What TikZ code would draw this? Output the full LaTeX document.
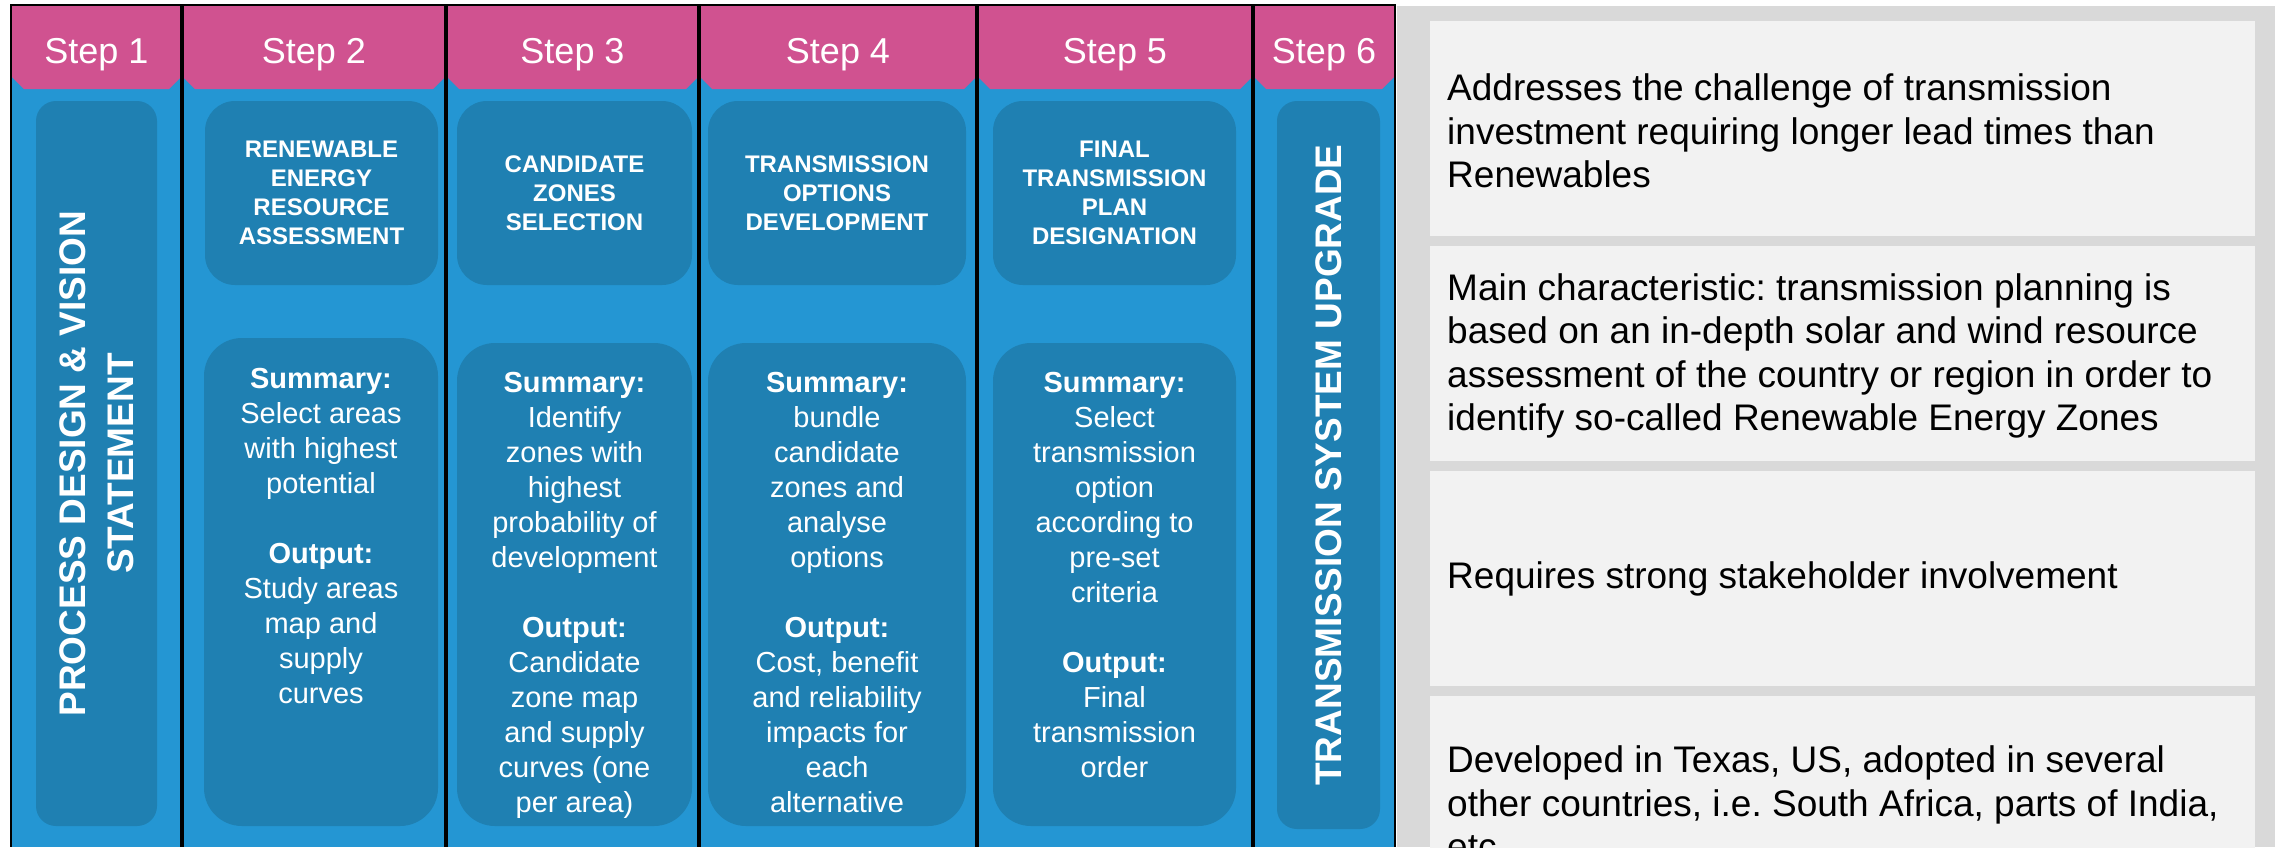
\documentclass[tikz,border=0pt]{standalone}
\usepackage{fontspec}
\setmainfont{Liberation Sans}
\frenchspacing
\definecolor{hdrpink}{RGB}{208,82,144}
\definecolor{colblue}{RGB}{36,150,211}
\definecolor{boxblue}{RGB}{31,128,178}
\definecolor{panelgray}{RGB}{217,217,217}
\definecolor{notegray}{RGB}{242,242,242}

\begin{document}
\begin{tikzpicture}[x=1pt,y=-1pt,
  steplabel/.style={text=white, font=\fontsize{36}{43}\selectfont, inner sep=0pt, anchor=base},
  innerbox/.style={fill=boxblue, draw=none, inner sep=0pt, rounded corners=#1},
  titletext/.style={text=white, font=\bfseries\fontsize{24}{29}\selectfont, align=center, inner sep=0pt},
  sumtext/.style={text=white, font=\fontsize{29}{35}\selectfont, align=center, inner sep=0pt, anchor=north},
  vtext/.style={text=white, font=\bfseries\fontsize{37}{48}\selectfont, align=center, inner sep=0pt, rotate=90},
  notebox/.style={fill=notegray, draw=none, inner sep=0pt, minimum width=825pt, minimum height=215pt},
  notetext/.style={text=black, font=\fontsize{37}{43.5}\selectfont, align=left, inner sep=0pt, anchor=west},
]
\useasboundingbox (0,0) rectangle (2280,847);
\clip (0,0) rectangle (2280,847);
\fill[white] (0,0) rectangle (2280,847);

% six step columns with chamfered pink headers
\foreach \xl/\xr/\n in {11/182/1,182/446/2,446/699/3,699/977/4,977/1253/5,1253/1395/6} {
  \fill[colblue] (\xl,5) rectangle (\xr,847);
  \fill[hdrpink] (\xl+1,6) -- (\xr-1,6) -- (\xr-1,77) -- (\xr-13,89)
                 -- (\xl+13,89) -- (\xl+1,77) -- cycle;
  \node[steplabel] (step\n) at ({(\xl+\xr)/2},63) {Step \n};
}

% column outlines
\draw[line width=2.5pt] (10,5) -- (1396,5);
\draw[line width=2pt] (11,4) -- (11,847);
\foreach \x in {182,446,699,977,1253} \draw[line width=3.5pt] (\x,5) -- (\x,847);
\draw[line width=2.5pt] (1395,4) -- (1395,847);

% step 1 and step 6: single tall boxes with vertical titles
\node[innerbox=20pt, minimum width=121pt, minimum height=725pt] (b1) at (96.5,463.5) {};
\node[vtext] (v1) at (b1.center) {PROCESS DESIGN \& VISION\\STATEMENT};
\node[innerbox=20pt, minimum width=103pt, minimum height=728pt] (b6) at (1328.5,465) {};
\node[vtext] (v6) at (b6.center) {TRANSMISSION SYSTEM UPGRADE};

% steps 2-5: title boxes
\node[innerbox=30pt, minimum width=233pt, minimum height=184pt] (t2) at (321.5,193) {};
\node[innerbox=30pt, minimum width=235pt, minimum height=184pt] (t3) at (574.5,193) {};
\node[innerbox=30pt, minimum width=258pt, minimum height=184pt] (t4) at (837,193) {};
\node[innerbox=30pt, minimum width=243pt, minimum height=184pt] (t5) at (1114.5,193) {};
\node[titletext] (tt2) at (t2.center) {RENEWABLE\\ENERGY\\RESOURCE\\ASSESSMENT};
\node[titletext] (tt3) at (t3.center) {CANDIDATE\\ZONES\\SELECTION};
\node[titletext] (tt4) at (t4.center) {TRANSMISSION\\OPTIONS\\DEVELOPMENT};
\node[titletext] (tt5) at (t5.center) {FINAL\\TRANSMISSION\\PLAN\\DESIGNATION};

% steps 2-5: summary boxes
\node[innerbox=38pt, minimum width=234pt, minimum height=488pt] (s2) at (321,582) {};
\node[innerbox=38pt, minimum width=235pt, minimum height=483pt] (s3) at (574.5,584.5) {};
\node[innerbox=38pt, minimum width=258pt, minimum height=483pt] (s4) at (837,584.5) {};
\node[innerbox=38pt, minimum width=243pt, minimum height=483pt] (s5) at (1114.5,584.5) {};
\node[sumtext] (st2) at ([yshift=-30pt]s2.north)
  {\textbf{Summary:}\\Select areas\\with highest\\potential\\[35pt]\textbf{Output:}\\Study areas\\map and\\supply\\curves};
\node[sumtext] (st3) at ([yshift=-29pt]s3.north)
  {\textbf{Summary:}\\Identify\\zones with\\highest\\probability of\\development\\[35pt]\textbf{Output:}\\Candidate\\zone map\\and supply\\curves (one\\per area)};
\node[sumtext] (st4) at ([yshift=-29pt]s4.north)
  {\textbf{Summary:}\\bundle\\candidate\\zones and\\analyse\\options\\[35pt]\textbf{Output:}\\Cost, benefit\\and reliability\\impacts for\\each\\alternative};
\node[sumtext] (st5) at ([yshift=-29pt]s5.north)
  {\textbf{Summary:}\\Select\\transmission\\option\\according to\\pre-set\\criteria\\[35pt]\textbf{Output:}\\Final\\transmission\\order};

% right-hand notes panel
\fill[panelgray] (1397,6) rectangle (2275,847);
\node[notebox] (n1) at (1842.5,128.5) {};
\node[notebox] (n2) at (1842.5,353.5) {};
\node[notebox] (n3) at (1842.5,578.5) {};
\node[notebox] (n4) at (1842.5,803.5) {};
\node[notetext] (nt1) at (1447,131) {Addresses the challenge of transmission\\investment requiring longer lead times than\\Renewables};
\node[notetext] (nt2) at (1447,356) {Main characteristic: transmission planning is\\based on an in-depth solar and wind resource\\assessment of the country or region in order to\\identify so-called Renewable Energy Zones};
\node[notetext] (nt3) at (1447,579) {Requires strong stakeholder involvement};
\node[notetext] (nt4) at (1447,803) {Developed in Texas, US, adopted in several\\other countries, i.e. South Africa, parts of India,\\etc.};
\end{tikzpicture}
\end{document}
